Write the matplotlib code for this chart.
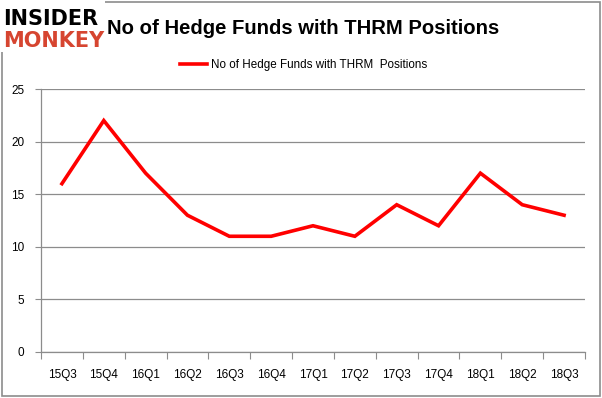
import matplotlib
matplotlib.use('Agg')
import matplotlib.pyplot as plt
from matplotlib.patches import Rectangle

# datos
trimestres = ['15Q3', '15Q4', '16Q1', '16Q2', '16Q3', '16Q4', '17Q1',
              '17Q2', '17Q3', '17Q4', '18Q1', '18Q2', '18Q3']
num_fondos = [16, 22, 17, 13, 11, 11, 12, 11, 14, 12, 17, 14, 13]
etiqueta = 'No of Hedge Funds with THRM  Positions'
titulo = 'No of Hedge Funds with THRM Positions'

plt.rcParams['font.family'] = ['Liberation Sans', 'DejaVu Sans']

fig = plt.figure(figsize=(6.02, 3.98), dpi=100)
ax = fig.add_axes([41 / 602, 46 / 398, 544 / 602, 263 / 398])

x = list(range(len(trimestres)))
ax.plot(x, num_fondos, color='#ff0000', linewidth=2.6, label=etiqueta,
        solid_joinstyle='miter', zorder=3)

ax.set_xlim(-0.5, len(trimestres) - 0.5)
ax.set_ylim(0, 25)
ax.set_yticks([0, 5, 10, 15, 20, 25])
ax.yaxis.grid(True, color='#8c8c8c', linewidth=0.9)
ax.set_axisbelow(True)

# ticks del eje x en los limites de categoria
ax.set_xticks([i - 0.5 for i in range(len(trimestres) + 1)])
ax.set_xticklabels([])
ax.set_xticks(x, minor=True)
ax.set_xticklabels(trimestres, minor=True)
ax.tick_params(axis='x', which='major', length=5, color='#8c8c8c', direction='out')
ax.tick_params(axis='x', which='minor', length=0, pad=12, labelsize=8.5)
ax.tick_params(axis='y', length=4, color='#8c8c8c', labelsize=8.5, pad=8)

for lado in ['top', 'right']:
    ax.spines[lado].set_visible(False)
for lado in ['left', 'bottom']:
    ax.spines[lado].set_color('#8c8c8c')
    ax.spines[lado].set_linewidth(0.9)

ax.legend(loc='center', bbox_to_anchor=(0.483, 1.09), frameon=False,
          fontsize=8.4, handlelength=2.3, handletextpad=0.3)

fig.text(0.503, 1 - 34 / 398, titulo, ha='center', va='baseline', fontsize=14.6,
         fontweight='bold')

# logo
fig.patches.append(Rectangle((0, 0.87), 0.175, 0.13, transform=fig.transFigure,
                             facecolor='white', edgecolor='none', zorder=5))
fig.text(0.006, 1 - 19 / 398, 'INSIDER', fontsize=15, fontweight='heavy', color='black',
         family='DejaVu Sans', va='center', ha='left', zorder=6)
fig.text(0.006, 1 - 41 / 398, 'MONKEY', fontsize=15, fontweight='heavy', color='#d64530',
         family='DejaVu Sans', va='center', ha='left', zorder=6)

# marco
fig.patches.append(Rectangle((0.003, 0.004), 0.993, 0.99, transform=fig.transFigure,
                             facecolor='none', edgecolor='#8c8c8c', linewidth=1.2))

fig.savefig('out.png', dpi=100)
